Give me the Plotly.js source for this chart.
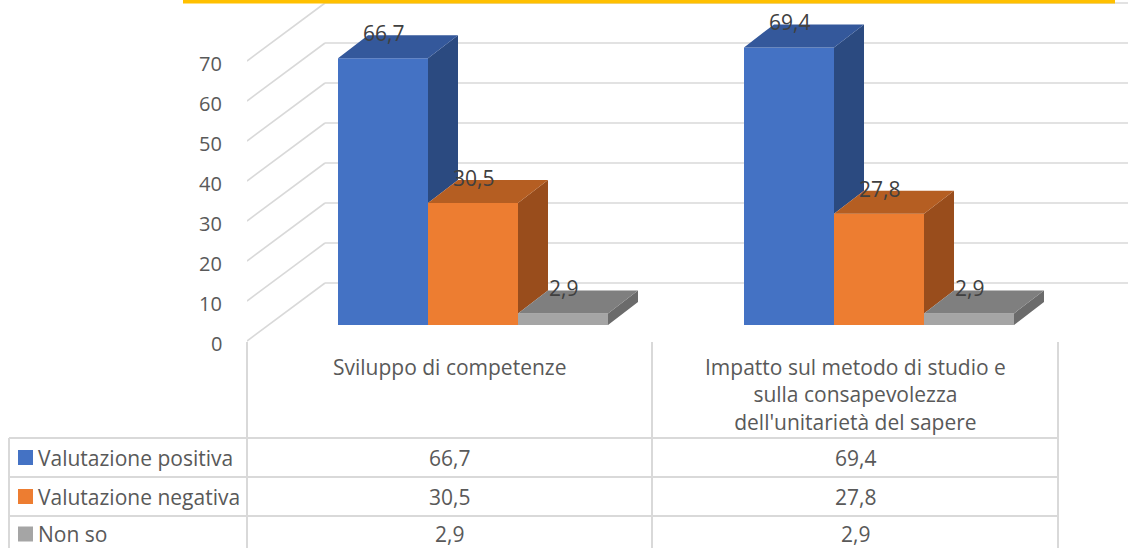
<!DOCTYPE html>
<html>
<head>
<meta charset="utf-8">
<script src="https://cdn.plot.ly/plotly-3.0.1.min.js"></script>
<style>
  html, body { margin: 0; padding: 0; background: #ffffff; }
  #chart { width: 1128px; height: 548px; }
</style>
</head>
<body>
<div id="chart"></div>
<script>
// ---------------- DATA ----------------
const categories = [
  "Sviluppo di competenze",
  "Impatto sul metodo di studio e<br>sulla consapevolezza<br>dell'unitarietà del sapere"
];
const seriesNames = ["Valutazione positiva", "Valutazione negativa", "Non so"];
const positiva = [66.7, 69.4];
const negativa = [30.5, 27.8];
const nonSo = [2.9, 2.9];
const tickVals = [0, 10, 20, 30, 40, 50, 60, 70];
const tickLabels = ["0", "10", "20", "30", "40", "50", "60", "70"];

// ---------------- STYLE / LAYOUT CONSTANTS ----------------
const series = [positiva, negativa, nonSo];
const frontColors = ["#4472C4", "#ED7D31", "#A5A5A5"];
const topColors   = ["#34589B", "#B55E22", "#7F7F7F"];
const sideColors  = ["#2B4A80", "#994D1C", "#6B6B6B"];
const FONT = "Open Sans, Noto Sans, sans-serif";
const TXT = "#595959";
const LBL = "#404040";
const GRID = "#D9D9D9";
const FS = 21;

const W = 1128, H = 548;
const ML = 247, MB = 205;             // plot area: x 247..1128, y 0..343
const PW = W - ML, PH = H - MB;
const PX = p => (p - ML) / PW;        // pixel -> paper
const PY = p => (PH - p) / PH;

const BW = 0.221675;                  // bar width (x units)
const offs = [-1.5 * BW, -0.5 * BW, 0.5 * BW];
const DX = 0.0739, DY = 5.75;         // bar depth offsets
const XF = -0.55665, XB = -0.36453;   // floor front / back left edge
const FRONT_DY = -4, BACK_DY = 10.5;  // floor front / back vertical offsets

const traces = [];
// front faces as bars
series.forEach((vals, j) => {
  traces.push({
    type: "bar",
    name: seriesNames[j],
    x: categories.map((c, i) => i),
    y: vals,
    width: BW,
    offset: offs[j],
    marker: { color: frontColors[j], line: { width: 0 } },
    hoverinfo: "skip",
    showlegend: false
  });
});
// side + top faces
series.forEach((vals, j) => {
  const sx = [], sy = [], tx = [], ty = [];
  vals.forEach((v, i) => {
    const xl = i + offs[j], xr = xl + BW;
    const next = j + 1 < series.length ? series[j + 1][i] : 0;
    const base = Math.min(v, next);
    sx.push(xr, xr + DX, xr + DX, xr, xr, null);
    sy.push(base, base + DY, v + DY, v, base, null);
    tx.push(xl, xr, xr + DX, xl + DX, xl, null);
    ty.push(v, v, v + DY, v + DY, v, null);
  });
  traces.push({ type: "scatter", mode: "lines", x: sx, y: sy, fill: "toself",
    fillcolor: sideColors[j], line: { width: 0, color: sideColors[j] }, hoverinfo: "skip", showlegend: false });
  traces.push({ type: "scatter", mode: "lines", x: tx, y: ty, fill: "toself",
    fillcolor: topColors[j], line: { width: 0, color: topColors[j] }, hoverinfo: "skip", showlegend: false });
});

// gridlines (diagonal side wall + back wall)
const shapes = [];
tickVals.forEach(v => {
  shapes.push({ type: "line", layer: "below", xref: "x", yref: "y",
    x0: XF, y0: v + FRONT_DY, x1: XB, y1: v + BACK_DY, line: { color: GRID, width: 1.6 } });
  shapes.push({ type: "line", layer: "below", xref: "x", yref: "y",
    x0: XB, y0: v + BACK_DY, x1: 1.7, y1: v + BACK_DY, line: { color: GRID, width: 1.6 } });
});
// yellow top rule
shapes.push({ type: "rect", xref: "paper", yref: "paper",
  x0: PX(183), x1: PX(1115), y0: PY(0), y1: PY(3.5), fillcolor: "#FFC000", line: { width: 0 } });

// data table
const colEdges = [247, 652, 1058];
const colCenters = [449.5, 855];
const rowLines = [438, 477, 516];
const rowCenters = [457.5, 496.5, 534];
const TL = 9;
colEdges.forEach(xe => {
  shapes.push({ type: "line", xref: "paper", yref: "paper",
    x0: PX(xe), x1: PX(xe), y0: PY(342), y1: PY(H + 2), line: { color: GRID, width: 2 } });
});
shapes.push({ type: "line", xref: "paper", yref: "paper",
  x0: PX(TL), x1: PX(TL), y0: PY(rowLines[0]), y1: PY(H + 2), line: { color: GRID, width: 2 } });
rowLines.forEach(yl => {
  shapes.push({ type: "line", xref: "paper", yref: "paper",
    x0: PX(TL), x1: PX(1058), y0: PY(yl), y1: PY(yl), line: { color: GRID, width: 2 } });
});
// legend keys
rowCenters.forEach((rc, j) => {
  shapes.push({ type: "rect", xref: "paper", yref: "paper",
    x0: PX(18), x1: PX(33), y0: PY(rc + 7.5), y1: PY(rc - 7.5),
    fillcolor: frontColors[j], line: { width: 0 } });
});

const fmt = v => v.toFixed(1).replace(".", ",");
const annotations = [];
// value-axis tick labels on the front floor edge
tickVals.forEach((v, k) => {
  annotations.push({ xref: "paper", yref: "y", x: 0, y: v + FRONT_DY, xshift: -23, yshift: -2,
    text: tickLabels[k], showarrow: false, xanchor: "right", yanchor: "middle",
    font: { family: FONT, size: 20, color: TXT } });
});
// data labels
series.forEach((vals, j) => {
  vals.forEach((v, i) => {
    annotations.push({ xref: "x", yref: "y", x: i + offs[j] + BW / 2, y: v + DY,
      text: fmt(v), showarrow: false, xanchor: "center", yanchor: "middle", yshift: 2,
      font: { family: FONT, size: FS, color: LBL } });
  });
});
// table header (categories)
categories.forEach((c, i) => {
  annotations.push({ xref: "paper", yref: "paper", x: PX(colCenters[i]), y: PY(351),
    text: c, showarrow: false, xanchor: "center", yanchor: "top", align: "center",
    font: { family: FONT, size: FS, color: TXT } });
});
// row labels + values
series.forEach((vals, j) => {
  annotations.push({ xref: "paper", yref: "paper", x: PX(36), y: PY(rowCenters[j]),
    text: seriesNames[j], showarrow: false, xanchor: "left", yanchor: "middle",
    font: { family: FONT, size: FS, color: TXT } });
  vals.forEach((v, i) => {
    annotations.push({ xref: "paper", yref: "paper", x: PX(colCenters[i]), y: PY(rowCenters[j]),
      text: fmt(v), showarrow: false, xanchor: "center", yanchor: "middle",
      font: { family: FONT, size: FS, color: TXT } });
  });
});

const layout = {
  width: W, height: H,
  margin: { l: ML, r: 0, t: 0, b: MB, pad: 0 },
  paper_bgcolor: "#ffffff", plot_bgcolor: "rgba(0,0,0,0)",
  barmode: "overlay",
  showlegend: false,
  xaxis: { range: [XF, 1.6133], showgrid: false, zeroline: false, showticklabels: false,
    showline: false, ticks: "", fixedrange: true },
  yaxis: { range: [-4.5, 81.25], showgrid: false, zeroline: false, showline: false,
    showticklabels: false, ticks: "", fixedrange: true },
  shapes: shapes,
  annotations: annotations
};

Plotly.newPlot("chart", traces, layout, { displayModeBar: false, staticPlot: true });
</script>
</body>
</html>
